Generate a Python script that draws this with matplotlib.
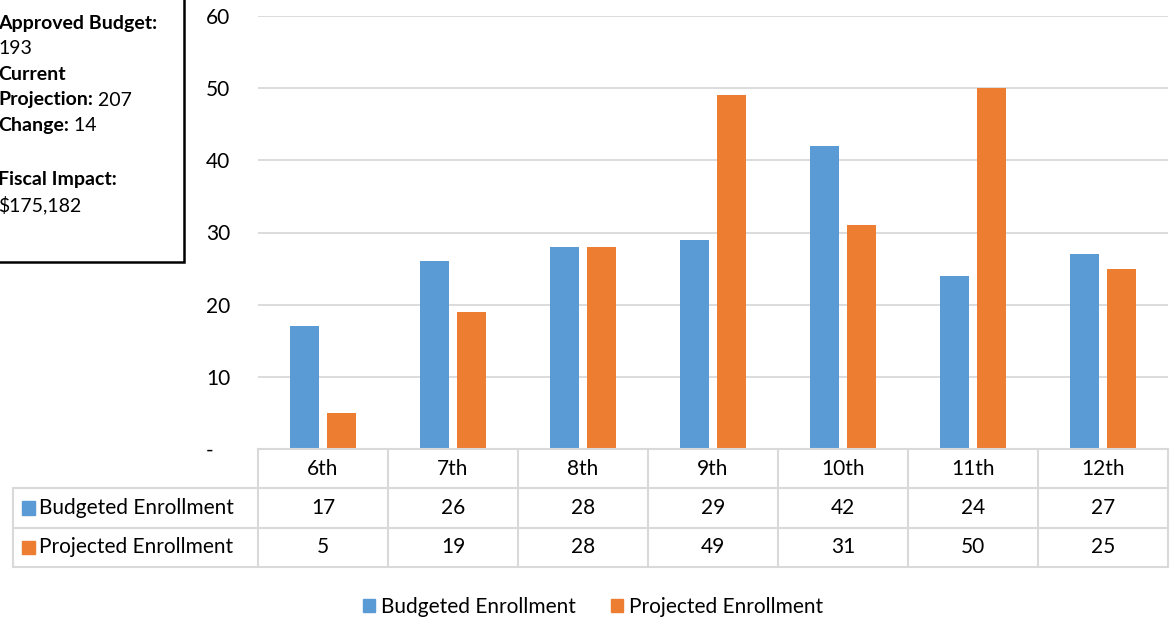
import numpy as np
import matplotlib
matplotlib.use("Agg")
import matplotlib.pyplot as plt
from matplotlib.patches import Rectangle, Patch

plt.rcParams['font.family'] = ['Lato', 'DejaVu Sans']

grades = ["6th", "7th", "8th", "9th", "10th", "11th", "12th"]
budgeted = [17, 26, 28, 29, 42, 24, 27]
projected = [5, 19, 28, 49, 31, 50, 25]
series_names = ["Budgeted Enrollment", "Projected Enrollment"]
y_ticks = [0, 10, 20, 30, 40, 50, 60]
y_tick_labels = ["-   ", "10", "20", "30", "40", "50", "60"]

BLUE = "#5B9BD5"
ORANGE = "#ED7D31"
GRID = "#D9D9D9"
W, H = 1175, 624
FS = 15

fig = plt.figure(figsize=(W / 100, H / 100), dpi=100)

# main bar area
ax = fig.add_axes([258 / W, (H - 449) / H, 910 / W, 433 / H])
x = np.arange(len(grades))
bw = 0.23
ax.bar(x - 0.142, budgeted, bw, color=BLUE, zorder=3)
ax.bar(x + 0.142, projected, bw, color=ORANGE, zorder=3)
ax.set_xlim(-0.5, len(grades) - 0.5)
ax.set_ylim(0, 60)
ax.set_yticks(y_ticks)
ax.set_yticklabels(y_tick_labels, fontsize=FS)
ax.tick_params(axis='y', length=0, pad=20)
ax.set_xticks([])
for s in ax.spines.values():
    s.set_visible(False)
ax.grid(axis='y', color=GRID, linewidth=1.3, zorder=0)

# data table below the bars
tax = fig.add_axes([13 / W, (H - 567) / H, 1155 / W, 118 / H])
left = -0.5 - 245 / 130
tax.set_xlim(left, len(grades) - 0.5)
tax.set_ylim(3, 0)
tax.axis('off')
lw = 1.5
tax.plot([-0.5, 6.5], [0, 0], color=GRID, lw=lw, clip_on=False)
for yy in [1, 2, 3]:
    tax.plot([left, 6.5], [yy, yy], color=GRID, lw=lw, clip_on=False)
tax.plot([left, left], [1, 3], color=GRID, lw=lw, clip_on=False)
for xx in np.arange(-0.5, 7, 1):
    tax.plot([xx, xx], [0, 3], color=GRID, lw=lw, clip_on=False)

for i, g in enumerate(grades):
    tax.text(i, 0.5, g, ha='center', va='center', fontsize=FS)
    tax.text(i, 1.5, str(budgeted[i]), ha='center', va='center', fontsize=FS)
    tax.text(i, 2.5, str(projected[i]), ha='center', va='center', fontsize=FS)

sq = 13 / 130
for r, (name, col) in enumerate(zip(series_names, [BLUE, ORANGE])):
    tax.add_patch(Rectangle((left + 9 / 130, r + 1.5 - 0.17), sq, 0.34,
                            color=col, clip_on=False))
    tax.text(left + 26 / 130, r + 1.5, name, ha='left', va='center', fontsize=FS)

# legend
handles = [Patch(color=BLUE, label=series_names[0]),
           Patch(color=ORANGE, label=series_names[1])]
fig.legend(handles=handles, loc='center', bbox_to_anchor=(593 / W, 1 - 607 / H),
           ncol=2, frameon=False, fontsize=FS, handlelength=0.55, handleheight=0.55,
           handletextpad=0.3, columnspacing=1.7)

# info box
fig.patches.append(Rectangle((-2 / W, 1 - 262 / H), 186 / W, 264 / H,
                             transform=fig.transFigure, fill=False,
                             edgecolor='black', linewidth=1.8))
lines = [("Approved Budget:", ""), ("", "193"), ("Current", ""),
         ("Projection:", " 207"), ("Change:", " 14"), ("", ""),
         ("Fiscal Impact:", ""), ("", "$175,182")]
ypos = [23, 48, 74, 100, 126, 152, 179, 205]
BFS = 14
for (b, r), yp in zip(lines, ypos):
    fy = 1 - yp / H
    if b:
        t = fig.text(-2 / W, fy, b, fontsize=BFS, fontweight='bold', va='center')
        if r:
            plt.annotate(r, xy=(1, 0.5), xycoords=t, va='center', ha='left',
                         fontsize=BFS)
    elif r:
        fig.text(-2 / W, fy, r, fontsize=BFS, va='center')

fig.savefig("out.png", dpi=100)
